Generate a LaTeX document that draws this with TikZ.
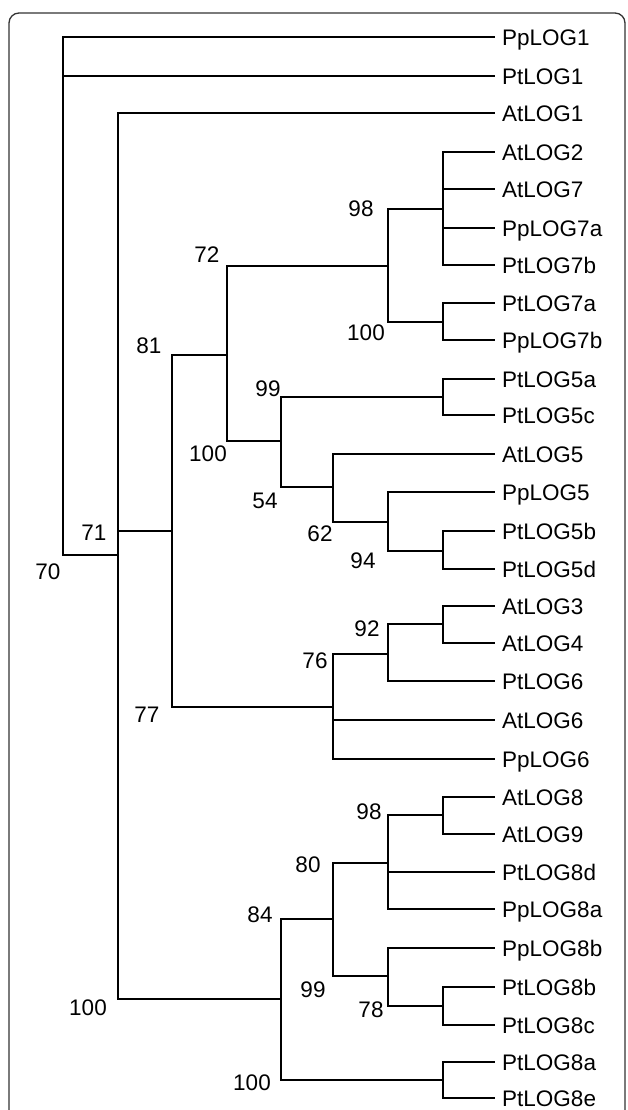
\documentclass[tikz,border=0pt]{standalone}
\usepackage{fontspec}
\setmainfont{Liberation Sans}
\begin{document}
\begin{tikzpicture}[x=1pt,y=-1pt,
  br/.style={line width=2.4pt, line join=miter},
  leaf/.style={anchor=west, inner xsep=7pt, inner ysep=0pt, text height=17pt, text depth=0pt, font=\fontsize{22.5}{22.5}\selectfont},
  bs/.style={anchor=base, inner sep=0pt, font=\fontsize{22.5}{22.5}\selectfont},
  frame/.style={line width=1.3pt, draw=black!80, rounded corners=10pt}]
\useasboundingbox (0,0) rectangle (627,1110);
\draw[frame] (9,1112) -- (9,13) -- (625,13) -- (625,1112);

% leaves
\node[leaf] (PpLOG1)  at (495,37)   {PpLOG1};
\node[leaf] (PtLOG1)  at (495,76)   {PtLOG1};
\node[leaf] (AtLOG1)  at (495,113)  {AtLOG1};
\node[leaf] (AtLOG2)  at (495,152)  {AtLOG2};
\node[leaf] (AtLOG7)  at (495,189)  {AtLOG7};
\node[leaf] (PpLOG7a) at (495,228)  {PpLOG7a};
\node[leaf] (PtLOG7b) at (495,265)  {PtLOG7b};
\node[leaf] (PtLOG7a) at (495,303)  {PtLOG7a};
\node[leaf] (PpLOG7b) at (495,340)  {PpLOG7b};
\node[leaf] (PtLOG5a) at (495,379)  {PtLOG5a};
\node[leaf] (PtLOG5c) at (495,415)  {PtLOG5c};
\node[leaf] (AtLOG5)  at (495,454)  {AtLOG5};
\node[leaf] (PpLOG5)  at (495,492)  {PpLOG5};
\node[leaf] (PtLOG5b) at (495,531)  {PtLOG5b};
\node[leaf] (PtLOG5d) at (495,569)  {PtLOG5d};
\node[leaf] (AtLOG3)  at (495,606)  {AtLOG3};
\node[leaf] (AtLOG4)  at (495,643)  {AtLOG4};
\node[leaf] (PtLOG6)  at (495,681)  {PtLOG6};
\node[leaf] (AtLOG6)  at (495,720)  {AtLOG6};
\node[leaf] (PpLOG6)  at (495,759)  {PpLOG6};
\node[leaf] (AtLOG8)  at (495,797)  {AtLOG8};
\node[leaf] (AtLOG9)  at (495,834)  {AtLOG9};
\node[leaf] (PtLOG8d) at (495,872)  {PtLOG8d};
\node[leaf] (PpLOG8a) at (495,909)  {PpLOG8a};
\node[leaf] (PpLOG8b) at (495,948)  {PpLOG8b};
\node[leaf] (PtLOG8b) at (495,987)  {PtLOG8b};
\node[leaf] (PtLOG8c) at (495,1025) {PtLOG8c};
\node[leaf] (PtLOG8a) at (495,1062) {PtLOG8a};
\node[leaf] (PtLOG8e) at (495,1098) {PtLOG8e};

% internal nodes
\coordinate (A) at (63,296);
\coordinate (B) at (118,555);
\coordinate (C) at (172,531);
\coordinate (D) at (227,355);
\coordinate (E) at (388,266);
\coordinate (F) at (443,209);
\coordinate (G) at (443,322);
\coordinate (H) at (281,441);
\coordinate (I) at (443,397);
\coordinate (J) at (333,487);
\coordinate (K) at (388,522);
\coordinate (L) at (443,551);
\coordinate (M) at (333,707);
\coordinate (N) at (388,654);
\coordinate (O) at (443,624);
\coordinate (T) at (281,999);
\coordinate (U) at (333,919);
\coordinate (V) at (388,863);
\coordinate (W) at (443,815);
\coordinate (X) at (388,976);
\coordinate (Y) at (443,1006);
\coordinate (Z) at (443,1080);

% branches
\draw[br] (A) |- (PpLOG1.west);
\draw[br] (A) |- (PtLOG1.west);
\draw[br] (A) |- (B);
\draw[br] (B) |- (AtLOG1.west);
\draw[br] (B) |- (C);
\draw[br] (B) |- (T);
\draw[br] (C) |- (D);
\draw[br] (C) |- (M);
\draw[br] (D) |- (E);
\draw[br] (D) |- (H);
\draw[br] (E) |- (F);
\draw[br] (E) |- (G);
\draw[br] (F) |- (AtLOG2.west);
\draw[br] (F) |- (AtLOG7.west);
\draw[br] (F) |- (PpLOG7a.west);
\draw[br] (F) |- (PtLOG7b.west);
\draw[br] (G) |- (PtLOG7a.west);
\draw[br] (G) |- (PpLOG7b.west);
\draw[br] (H) |- (I);
\draw[br] (H) |- (J);
\draw[br] (I) |- (PtLOG5a.west);
\draw[br] (I) |- (PtLOG5c.west);
\draw[br] (J) |- (AtLOG5.west);
\draw[br] (J) |- (K);
\draw[br] (K) |- (PpLOG5.west);
\draw[br] (K) |- (L);
\draw[br] (L) |- (PtLOG5b.west);
\draw[br] (L) |- (PtLOG5d.west);
\draw[br] (M) |- (N);
\draw[br] (M) |- (AtLOG6.west);
\draw[br] (M) |- (PpLOG6.west);
\draw[br] (N) |- (O);
\draw[br] (N) |- (PtLOG6.west);
\draw[br] (O) |- (AtLOG3.west);
\draw[br] (O) |- (AtLOG4.west);
\draw[br] (T) |- (U);
\draw[br] (T) |- (Z);
\draw[br] (U) |- (V);
\draw[br] (U) |- (X);
\draw[br] (V) |- (W);
\draw[br] (V) |- (PtLOG8d.west);
\draw[br] (V) |- (PpLOG8a.west);
\draw[br] (W) |- (AtLOG8.west);
\draw[br] (W) |- (AtLOG9.west);
\draw[br] (X) |- (PpLOG8b.west);
\draw[br] (X) |- (Y);
\draw[br] (Y) |- (PtLOG8b.west);
\draw[br] (Y) |- (PtLOG8c.west);
\draw[br] (Z) |- (PtLOG8a.west);
\draw[br] (Z) |- (PtLOG8e.west);

% bootstrap values
\node[bs] (b70)   at (48,579)   {70};
\node[bs] (b71)   at (94,540)   {71};
\node[bs] (b72)   at (207,262)  {72};
\node[bs] (b98a)  at (361,216)  {98};
\node[bs] (b100a) at (366,340)  {100};
\node[bs] (b81)   at (149,353)  {81};
\node[bs] (b99a)  at (268,396)  {99};
\node[bs] (b100b) at (208,461)  {100};
\node[bs] (b54)   at (265,508)  {54};
\node[bs] (b62)   at (320,541)  {62};
\node[bs] (b94)   at (363,568)  {94};
\node[bs] (b92)   at (367,636)  {92};
\node[bs] (b76)   at (315,668)  {76};
\node[bs] (b77)   at (147,722)  {77};
\node[bs] (b98b)  at (369,819)  {98};
\node[bs] (b80)   at (308,872)  {80};
\node[bs] (b84)   at (260,922)  {84};
\node[bs] (b99b)  at (313,997)  {99};
\node[bs] (b78)   at (371,1017) {78};
\node[bs] (b100c) at (88,1015)  {100};
\node[bs] (b100d) at (252,1090) {100};
\end{tikzpicture}
\end{document}
